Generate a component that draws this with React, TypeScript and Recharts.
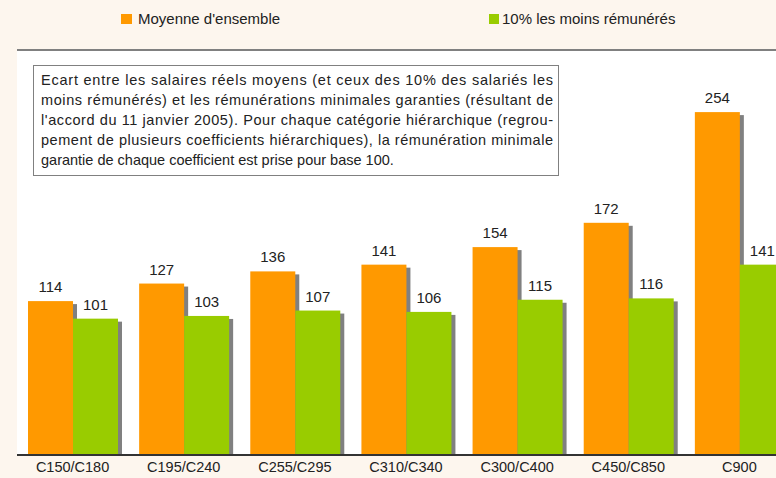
import { BarChart, Bar, XAxis, YAxis, LabelList, CartesianGrid, ReferenceLine } from "recharts";

const categories = ["C150/C180", "C195/C240", "C255/C295", "C310/C340", "C300/C400", "C450/C850", "C900"];
const moyenne = [114, 127, 136, 141, 154, 172, 254];
const moinsRemuneres = [101, 103, 107, 106, 115, 116, 141];
const seriesNames = ["Moyenne d'ensemble", "10% les moins rémunérés"];
const noteLines = [
  "Ecart entre les salaires réels moyens (et ceux des 10% des salariés les",
  "moins rémunérés) et les rémunérations minimales garanties (résultant de",
  "l'accord du 11 janvier 2005). Pour chaque catégorie hiérarchique (regrou-",
  "pement de plusieurs coefficients hiérarchiques), la rémunération minimale",
  "garantie de chaque coefficient est prise pour base 100.",
];

const data = categories.map((name, i) => ({
  name,
  moyenne: moyenne[i],
  bas: moinsRemuneres[i],
}));

const FONT = '"Liberation Sans", Arial, sans-serif';
const ORANGE = "#FF9900";
const GREEN = "#99CC00";

// bar with a grey drop shadow on its right side
function ShadowBar(props: any) {
  const { x, y, width, height, fill } = props;
  if (!height) return null;
  return (
    <g>
      <rect x={x + 4} y={y + 3} width={width} height={Math.max(height - 3, 0)} fill="#808080" />
      <rect x={x} y={y} width={width} height={height} fill={fill} />
    </g>
  );
}

export default function App() {
  return (
    <div
      style={{
        position: "absolute",
        left: 0,
        top: 0,
        width: 776,
        height: 478,
        overflow: "hidden",
        background: "#FDF6EE",
        fontFamily: FONT,
      }}
    >
      <BarChart
        width={800}
        height={478}
        data={data}
        margin={{ top: 50, right: 5, bottom: 0, left: 17 }}
        barSize={45}
        barGap={0}
      >
        <CartesianGrid fill="#ffffff" horizontal={false} vertical={false} />
        <XAxis
          dataKey="name"
          tickLine={false}
          axisLine={{ stroke: "#333333", strokeWidth: 2 }}
          tickMargin={1}
          height={23}
          tick={{ fontSize: 14.5, fill: "#222222", fontFamily: FONT }}
          interval={0}
        />
        <YAxis
          domain={[0, 300]}
          width={0}
          tick={false}
          tickLine={false}
          axisLine={{ stroke: "#333333", strokeWidth: 2 }}
        />
        <ReferenceLine y={300} stroke="#808080" strokeWidth={2} />
        <Bar dataKey="moyenne" name={seriesNames[0]} fill={ORANGE} shape={ShadowBar} isAnimationActive={false}>
          <LabelList dataKey="moyenne" position="top" offset={9} fill="#222222" fontSize={15} fontFamily={FONT} />
        </Bar>
        <Bar dataKey="bas" name={seriesNames[1]} fill={GREEN} shape={ShadowBar} isAnimationActive={false}>
          <LabelList dataKey="bas" position="top" offset={9} fill="#222222" fontSize={15} fontFamily={FONT} />
        </Bar>
      </BarChart>

      <svg
        width={776}
        height={478}
        style={{ position: "absolute", left: 0, top: 0, pointerEvents: "none" }}
      >
        <g fontFamily={FONT} fontSize={15} fill="#222222">
          <rect x={121} y={14} width={11} height={10} fill={ORANGE} />
          <text x={138} y={24}>{seriesNames[0]}</text>
          <rect x={489} y={14} width={10} height={10} fill={GREEN} />
          <text x={502} y={24}>{seriesNames[1]}</text>
        </g>
        <rect x={33.5} y={65.5} width={525} height={110} fill="#ffffff" stroke="#808080" strokeWidth={1} />
        <g fontFamily={FONT} fontSize={14.5} fill="#222222">
          {noteLines.map((line, i) => (
            <text
              key={i}
              x={41}
              y={85 + i * 20}
              textLength={i < noteLines.length - 1 ? 512 : undefined}
              lengthAdjust="spacing"
            >
              {line}
            </text>
          ))}
        </g>
      </svg>
    </div>
  );
}
